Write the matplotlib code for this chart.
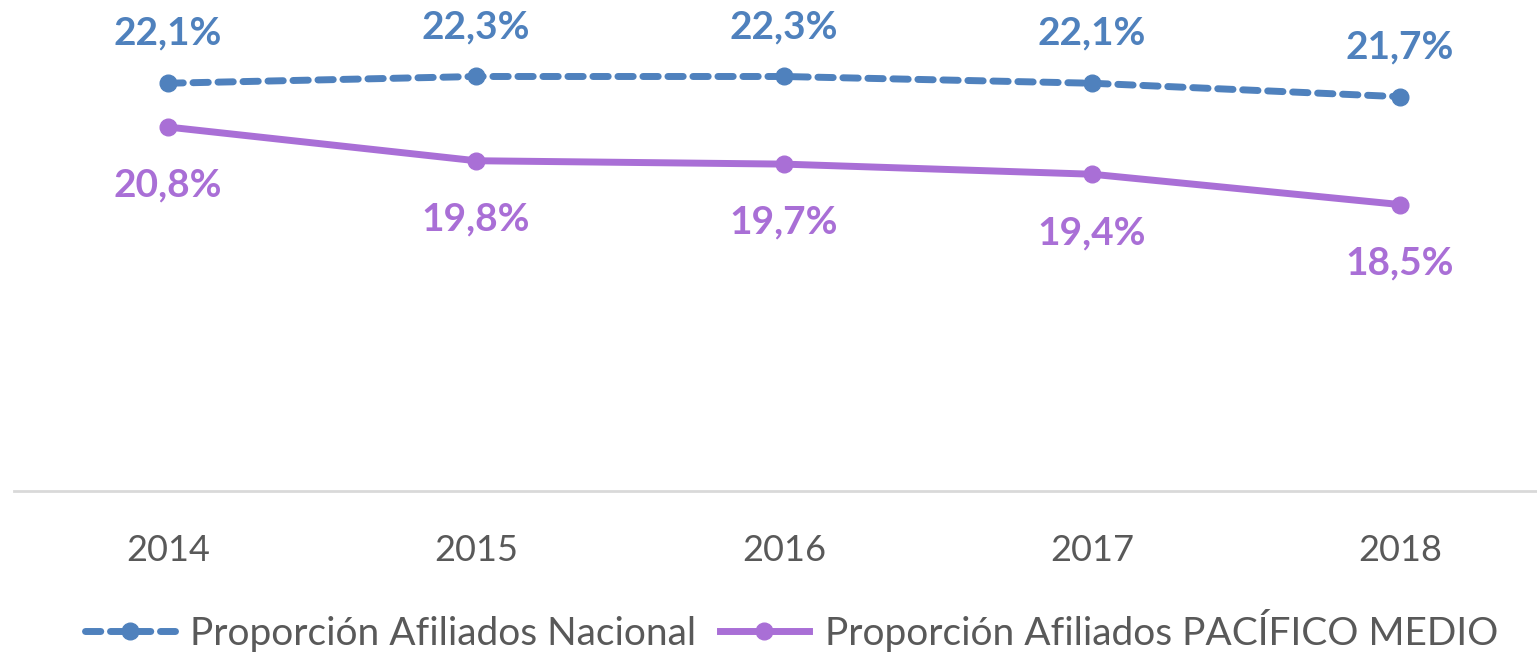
import matplotlib.pyplot as plt

# data
years = ['2014', '2015', '2016', '2017', '2018']
nacional = [22.1, 22.3, 22.3, 22.1, 21.7]
pacifico = [20.8, 19.8, 19.7, 19.4, 18.5]
label_nacional = 'Proporción Afiliados Nacional'
label_pacifico = 'Proporción Afiliados PACÍFICO MEDIO'

blue = '#4F81BD'
purple = '#A96FD6'
gray = '#595959'

plt.rcParams['font.family'] = ['Lato', 'DejaVu Sans']

fig = plt.figure(figsize=(15.37, 6.57), dpi=100)
ax = fig.add_axes([14 / 1537, (657 - 491) / 657, 1 - 14 / 1537, 491 / 657])

x = list(range(len(years)))
ax.plot(x, nacional, color=blue, lw=5, ls=(0, (2.2, 1.4)), marker='o', ms=12,
        dash_capstyle='round', label=label_nacional)
ax.plot(x, pacifico, color=purple, lw=5, marker='o', ms=12, label=label_pacifico)

for xi, v in zip(x, nacional):
    ax.annotate(f'{v:.1f}%'.replace('.', ','), (xi, v), xytext=(0, 36),
                textcoords='offset points', ha='center', va='center',
                fontsize=28, fontweight='bold', color=blue)
for xi, v in zip(x, pacifico):
    ax.annotate(f'{v:.1f}%'.replace('.', ','), (xi, v), xytext=(0, -42),
                textcoords='offset points', ha='center', va='center',
                fontsize=28, fontweight='bold', color=purple)

ax.set_xlim(-0.5, (1537 - 14) / 308 - 0.5)
ax.set_ylim(10, 10 + 491 / 33.7)
ax.set_xticks(x)
ax.set_xticklabels(years, fontsize=26, color=gray)
ax.tick_params(axis='x', length=0, pad=31)
ax.set_yticks([])
for side in ['top', 'right', 'left']:
    ax.spines[side].set_visible(False)
ax.spines['bottom'].set_color('#D9D9D9')
ax.spines['bottom'].set_linewidth(2)

fig.legend(loc='lower center', bbox_to_anchor=(0.515, -0.045), ncol=2, frameon=False,
           fontsize=28, labelcolor=gray, handlelength=2.3, columnspacing=0.6,
           handletextpad=0.4)

fig.savefig('out.png', dpi=100)
